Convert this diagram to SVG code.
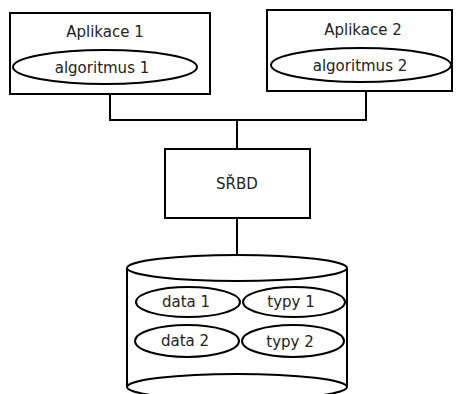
<svg xmlns="http://www.w3.org/2000/svg" width="459" height="394" viewBox="0 0 459 394">
<style>
.s{fill:#fff;stroke:#000;stroke-width:2}
.c{fill:none;stroke:#000;stroke-width:2}
text{font-family:"DejaVu Sans",sans-serif;font-size:15px;fill:#222;text-anchor:middle}
</style>
<rect width="459" height="394" fill="#fff"/>
<g id="connectors">
<polyline class="c" points="110,94 110,120 366,120 366,91"/>
<line class="c" x1="237" y1="120" x2="237" y2="149"/>
<line class="c" x1="237" y1="218" x2="237" y2="256"/>
</g>
<g id="app1">
<rect class="s" x="10" y="13" width="200" height="81"/>
<text x="105" y="37">Aplikace 1</text>
<ellipse class="s" cx="105" cy="67" rx="92" ry="17"/>
<text x="102" y="73">algoritmus 1</text>
</g>
<g id="app2">
<rect class="s" x="267" y="10" width="185" height="81"/>
<text x="363" y="35">Aplikace 2</text>
<ellipse class="s" cx="361" cy="65" rx="90" ry="17"/>
<text x="360" y="71">algoritmus 2</text>
</g>
<g id="srbd">
<rect class="s" x="165" y="149" width="145" height="69"/>
<text x="237" y="189">SŘBD</text>
</g>
<g id="db">
<path class="s" d="M127,268 L127,387 A110,13 0 0 0 347,387 L347,268"/>
<path class="c" d="M127,387 A110,13 0 0 1 347,387"/>
<ellipse class="s" cx="237" cy="268" rx="110" ry="13"/>
<ellipse class="s" cx="188" cy="302" rx="52" ry="15"/>
<text x="186" y="307">data 1</text>
<ellipse class="s" cx="294" cy="302" rx="51" ry="15"/>
<text x="291" y="307">typy 1</text>
<ellipse class="s" cx="187" cy="341" rx="52" ry="16"/>
<text x="185" y="346">data 2</text>
<ellipse class="s" cx="293" cy="341" rx="51" ry="16"/>
<text x="290" y="347">typy 2</text>
</g>
</svg>
